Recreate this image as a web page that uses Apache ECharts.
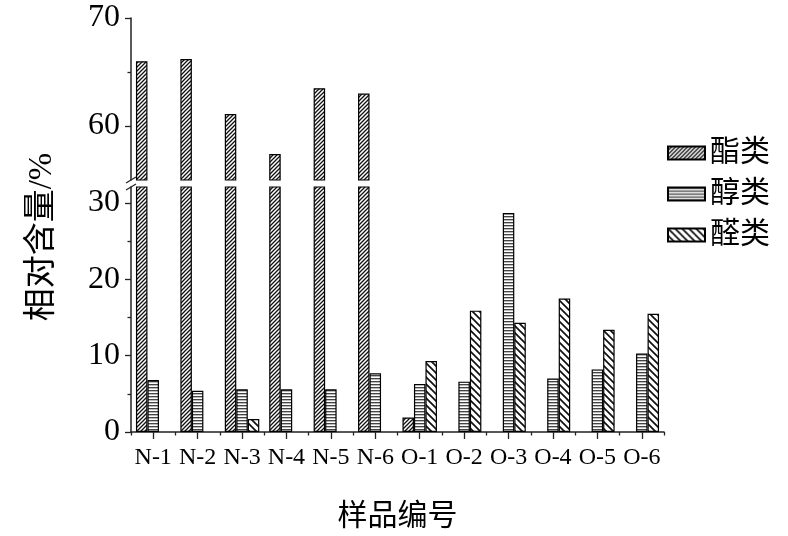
<!DOCTYPE html>
<html><head><meta charset="utf-8">
<script src="https://cdn.jsdelivr.net/npm/echarts@6/dist/echarts.min.js"></script>
<style>html,body{margin:0;padding:0;background:#fff}#c{width:788px;height:536px}</style>
</head><body><div id="c"></div>
<script>
const categories = ['N-1','N-2','N-3','N-4','N-5','N-6','O-1','O-2','O-3','O-4','O-5','O-6'];
const esters    = [66.0, 66.2, 61.1, 57.4, 63.5, 63.0, 1.9, null, null, null, null, null];
const alcohols  = [6.8, 5.4, 5.6, 5.6, 5.6, 7.7, 6.3, 6.6, 28.7, 7.0, 8.2, 10.3];
const aldehydes = [null, null, 1.7, null, null, null, 9.3, 15.9, 14.3, 17.5, 13.4, 15.5];
const seriesNames = ['酯类', '醇类', '醛类'];
const upperTicks = [60, 70];
const upperMinor = [65];
const lowerTicks = [0, 10, 20, 30];
const lowerMinor = [5, 15, 25];
const xName = '样品编号';
const yName = '相对含量/%';

function tile(w, h, draw) {
  const c = document.createElement('canvas');
  c.width = w; c.height = h;
  const g = c.getContext('2d');
  g.fillStyle = '#fff'; g.fillRect(0, 0, w, h);
  draw(g, w, h);
  return c;
}
const patEster = tile(4, 4, (g, s) => {
  g.strokeStyle = '#111'; g.lineWidth = 1.3;
  g.beginPath();
  g.moveTo(0, s); g.lineTo(s, 0);
  g.moveTo(-1, 1); g.lineTo(1, -1);
  g.moveTo(s - 1, s + 1); g.lineTo(s + 1, s - 1);
  g.stroke();
});
const patAlcohol = tile(4, 3, (g, w) => {
  g.fillStyle = '#444'; g.fillRect(0, 0, w, 1);
  g.fillStyle = '#bbb'; g.fillRect(0, 1, w, 1);
});
const patAldehyde = tile(7, 7, (g, s) => {
  g.strokeStyle = '#111'; g.lineWidth = 1.7;
  g.beginPath();
  g.moveTo(0, 0); g.lineTo(s, s);
  g.moveTo(-1, s - 1); g.lineTo(1, s + 1);
  g.moveTo(s - 1, -1); g.lineTo(s + 1, 1);
  g.stroke();
});
const pats = [patEster, patAlcohol, patAldehyde];
const FONT = "'Liberation Serif', 'Noto Sans CJK SC', serif";

function mkSeries(name, data, idx, upper) {
  return {
    name, type: 'bar', data,
    xAxisIndex: upper ? 0 : 1, yAxisIndex: upper ? 0 : 2,
    barWidth: 11.5, barGap: '0%',
    itemStyle: { color: { image: pats[idx], repeat: 'repeat' }, borderColor: '#000', borderWidth: 1.2 },
    clip: true, silent: true, animation: false
  };
}
const allData = [esters, alcohols, aldehydes];
const series = [];
seriesNames.forEach((n, i) => series.push(mkSeries(n, allData[i], i, false)));
seriesNames.forEach((n, i) => series.push(mkSeries(n, i === 0 ? esters : allData[i].map(() => null), i, true)));

const axisLineStyle = { color: '#222', width: 1.5 };
const tickStyle = { color: '#222', width: 1.3 };
const chart = echarts.init(document.getElementById('c'), null, { renderer: 'canvas' });
chart.setOption({
  animation: false,
  backgroundColor: '#fff',
  textStyle: { fontFamily: FONT, color: '#000' },
  grid: [
    { left: 131, right: 124, top: 18, height: 162 },
    { left: 131, right: 124, top: 187, height: 245 }
  ],
  legend: {
    orient: 'vertical', left: 662, top: 133, icon: 'rect',
    itemWidth: 37, itemHeight: 13, itemGap: 11,
    data: seriesNames,
    textStyle: { fontFamily: FONT, fontSize: 30, color: '#000', lineHeight: 29 }
  },
  xAxis: [
    { type: 'category', gridIndex: 0, data: categories, show: false },
    { type: 'category', gridIndex: 1, data: categories, position: 'bottom',
      axisLine: { lineStyle: axisLineStyle },
      axisTick: { show: true, alignWithLabel: true, interval: 0, length: 7, lineStyle: tickStyle },
      axisLabel: { interval: 0, fontFamily: FONT, fontSize: 24, color: '#000', margin: 14 },
      name: xName, nameLocation: 'middle', nameGap: 70,
      nameTextStyle: { fontFamily: FONT, fontSize: 30, color: '#000' } },
    { type: 'category', gridIndex: 1, data: categories, position: 'bottom',
      axisLine: { show: false }, axisLabel: { show: false },
      axisTick: { show: true, interval: 0, length: 3.5, lineStyle: tickStyle } }
  ],
  yAxis: [
    { type: 'value', gridIndex: 0, position: 'left', min: 55, max: 70,
      axisLine: { show: true, lineStyle: axisLineStyle }, splitLine: { show: false },
      axisTick: { show: true, customValues: upperTicks, length: 6, lineStyle: tickStyle },
      axisLabel: { customValues: upperTicks, fontFamily: FONT, fontSize: 32, color: '#000', margin: 11 } },
    { type: 'value', gridIndex: 0, position: 'left', min: 55, max: 70,
      axisLine: { show: false }, splitLine: { show: false }, axisLabel: { show: false },
      axisTick: { show: true, customValues: upperMinor, length: 3.5, lineStyle: tickStyle } },
    { type: 'value', gridIndex: 1, position: 'left', min: 0, max: 32.1,
      axisLine: { show: true, lineStyle: axisLineStyle }, splitLine: { show: false },
      axisTick: { show: true, customValues: lowerTicks, length: 6, lineStyle: tickStyle },
      axisLabel: { customValues: lowerTicks, fontFamily: FONT, fontSize: 32, color: '#000', margin: 11 } },
    { type: 'value', gridIndex: 1, position: 'left', min: 0, max: 32.1,
      axisLine: { show: false }, splitLine: { show: false }, axisLabel: { show: false },
      axisTick: { show: true, customValues: lowerMinor, length: 3.5, lineStyle: tickStyle } }
  ],
  series
});

const pTop = chart.convertToPixel({ gridIndex: 0 }, [0, 55]);
const pBot = chart.convertToPixel({ gridIndex: 1 }, [0, 32.1]);
const ax = chart.getModel().getComponent('grid', 0).coordinateSystem.getRect().x;
chart.setOption({
  graphic: [
    { type: 'line', shape: { x1: ax - 5, y1: pTop[1] + 3, x2: ax + 5, y2: pTop[1] - 3 }, style: { stroke: '#222', lineWidth: 1.2 } },
    { type: 'line', shape: { x1: ax - 5, y1: pBot[1] + 3, x2: ax + 5, y2: pBot[1] - 3 }, style: { stroke: '#222', lineWidth: 1.2 } },
    { type: 'text', x: 42, y: 237, rotation: Math.PI / 2,
      style: { text: yName, font: "33px 'Liberation Serif', 'Noto Sans CJK SC', serif", fill: '#000', align: 'center', verticalAlign: 'middle' } }
  ]
});
</script></body></html>
